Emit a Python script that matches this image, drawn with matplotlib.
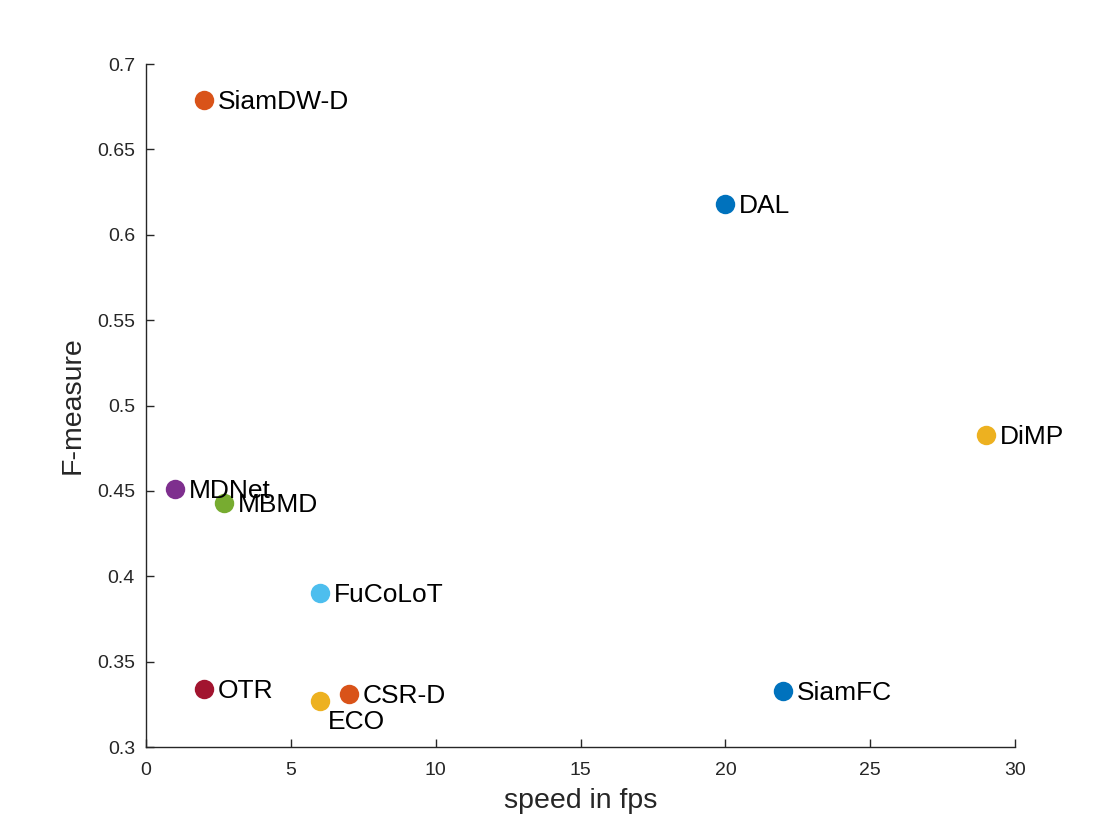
import matplotlib
matplotlib.use('Agg')
import matplotlib.pyplot as plt

matplotlib.rcParams['font.family'] = ['Liberation Sans', 'DejaVu Sans']

# 数据
trackers = ['SiamDW-D', 'DAL', 'DiMP', 'MDNet', 'MBMD', 'FuCoLoT', 'OTR', 'ECO', 'CSR-D', 'SiamFC']
speed = [2, 20, 29, 1, 2.7, 6, 2, 6, 7, 22]
fmeasure = [0.679, 0.618, 0.483, 0.451, 0.443, 0.390, 0.334, 0.327, 0.331, 0.333]
colors = ['#D95319', '#0072BD', '#EDB120', '#7E2F8E', '#77AC30',
          '#4DBEEE', '#A2142F', '#EDB120', '#D95319', '#0072BD']

axis_color = '#262626'

fig = plt.figure(figsize=(11.2, 8.4), dpi=100)
ax = fig.add_axes([0.1304, 0.1107, 0.7759, 0.8131])

for name, x, y, c in zip(trackers, speed, fmeasure, colors):
    ax.plot(x, y, 'o', color=c, markersize=14, markeredgewidth=0)
    if name == 'ECO':
        ax.annotate(name, (x, y), xytext=(6, -6.5), textcoords='offset points',
                    fontsize=19, va='top', ha='left', color='black')
    else:
        # 文字略低于点的中心
        ax.annotate(name, (x, y), xytext=(10, -1.5), textcoords='offset points',
                    fontsize=19, va='center', ha='left', color='black')

ax.set_xlim(0, 30)
ax.set_ylim(0.3, 0.7)
ax.set_xticks([0, 5, 10, 15, 20, 25, 30])
ax.set_yticks([0.3, 0.35, 0.4, 0.45, 0.5, 0.55, 0.6, 0.65, 0.7])
ax.set_yticklabels(['0.3', '0.35', '0.4', '0.45', '0.5', '0.55', '0.6', '0.65', '0.7'])

ax.spines['top'].set_visible(False)
ax.spines['right'].set_visible(False)
for s in ['left', 'bottom']:
    ax.spines[s].set_color(axis_color)
    ax.spines[s].set_linewidth(1.0)
ax.tick_params(direction='in', length=6, width=1.0, colors=axis_color,
               labelsize=14)
ax.tick_params(axis='x', pad=11)
ax.tick_params(axis='y', pad=8)

ax.set_xlabel('speed in fps', fontsize=20.5, color=axis_color, labelpad=6)
ax.set_ylabel('F-measure', fontsize=20.5, color=axis_color, labelpad=8)

fig.savefig('out.png', dpi=100)
